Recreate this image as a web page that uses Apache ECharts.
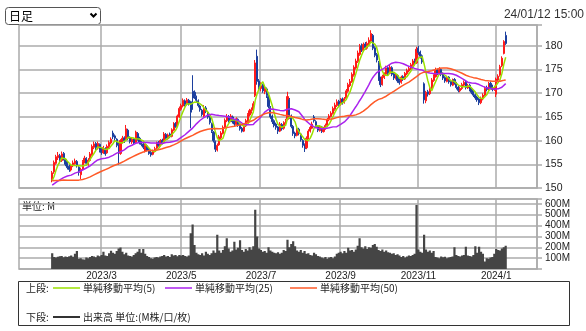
<!DOCTYPE html>
<html><head><meta charset="utf-8">
<script src="https://cdn.jsdelivr.net/npm/echarts@6/dist/echarts.min.js"></script>
<style>html,body{margin:0;padding:0;background:#fff}#c{width:586px;height:331px}</style>
</head><body><div id="c"></div><script>
// ---- data (daily, 2023-01-23 .. 2024-01-12) ----
const firstDataDate = '2023-01-23';
// closes before the window, used only to seed the moving averages
const priorCloses = [155,155.5,156,155,154.5,155,156,155.5,154,155,154.5,155,154,153.5,152,151,150,149.5,149,148.5,148,149,148.5,149,148.5,
  149,148.5,149.5,150,151,150.5,150,151,152,151.5,150.5,150,151,150.5,150,149.5,150,151,151.5,150.5,151,150,151.5,152];
const closes = [
 153.2,155.4,156.6,156.9,155.6,157.2,156.2,
 155.0,154.3,153.9,154.6,155.3,155.7,154.7,153.3,153.9,155.6,156.3,155.2,155.9,157.2,158.8,159.3,158.5,159.4,157.9,
 157.5,158.5,157.2,158.8,159.6,160.3,160.8,160.5,159.0,157.5,160.0,160.5,160.0,162.5,160.5,159.8,160.3,159.5,161.8,160.4,159.6,159.2,
 158.6,159.0,158.0,157.3,157.0,157.8,158.3,159.5,159.0,160.0,159.5,161.4,160.5,161.2,160.8,162.3,163.5,163.0,165.2,166.8,
 167.4,168.5,167.6,168.6,167.8,166.0,169.0,169.3,168.5,167.4,166.5,165.5,166.8,166.2,165.0,163.8,162.0,160.0,158.2,159.0,
 160.8,161.6,162.8,164.3,165.0,164.2,165.2,164.0,163.5,164.6,163.2,162.5,162.0,163.0,164.2,165.5,166.3,166.5,167.8,176.4,172.5,171.2,
 171.6,170.5,171.0,169.5,167.2,165.0,164.0,163.2,162.8,162.0,163.5,162.5,163.8,164.2,169.3,165.0,163.0,161.5,161.0,162.5,
 161.5,160.2,159.0,158.3,160.5,162.0,162.8,163.5,164.2,163.0,162.2,162.8,162.0,162.6,163.2,164.5,165.2,165.8,166.8,167.5,168.2,167.6,
 168.6,168.0,168.8,170.5,171.8,172.5,174.0,175.5,176.8,178.5,179.8,179.2,180.3,179.6,180.5,181.2,182.6,179.5,178.0,177.0,
 173.0,171.8,173.5,174.0,175.3,174.2,175.5,174.0,173.2,173.8,172.6,172.2,173.4,173.0,174.2,174.8,175.2,176.0,176.8,176.3,179.3,
 178.6,177.8,176.6,168.6,170.2,169.8,171.0,172.8,173.6,174.8,174.2,175.0,174.0,173.2,172.6,173.3,172.4,171.8,172.8,172.2,
 171.2,170.6,171.0,171.8,172.3,171.2,171.6,170.8,170.2,169.6,169.0,168.6,168.0,168.9,169.6,171.0,170.8,172.0,171.4,170.8,171.2,
 173.0,173.6,175.6,177.4,180.9,180.5];
const opens = [
 151.8,153.4,155.2,156.4,156.8,155.8,157.3,
 156.0,155.2,154.6,153.8,154.7,155.1,155.6,154.4,152.8,154.0,155.5,156.2,155.0,155.8,157.0,158.6,159.4,158.4,159.2,
 158.2,157.4,158.3,157.4,158.7,159.5,161.6,161.0,160.3,159.2,157.3,159.8,160.6,160.2,162.2,160.6,159.7,160.4,159.6,161.5,160.5,159.8,
 159.3,157.8,158.9,158.2,157.5,157.1,157.7,158.4,159.6,159.0,160.1,159.6,161.3,160.4,161.4,160.9,162.2,163.6,163.1,165.0,
 166.6,167.3,168.4,167.7,168.5,168.2,170.4,170.2,169.2,168.4,167.3,166.4,165.2,166.9,166.0,165.0,163.6,161.8,159.8,158.0,
 159.1,160.6,161.5,162.8,164.2,165.1,164.1,165.0,164.1,163.4,164.5,163.3,162.6,162.0,163.1,164.0,165.4,166.2,166.4,169.5,177.8,172.6,
 171.0,171.8,170.3,170.9,169.3,167.0,165.2,164.2,163.5,162.9,162.0,163.4,162.6,163.7,164.5,168.6,165.2,163.0,161.6,161.1,
 162.4,161.4,160.0,159.2,158.5,160.6,162.0,162.6,165.0,164.0,163.0,162.1,162.9,161.9,162.5,163.2,164.4,165.1,165.7,166.6,167.4,168.3,
 167.7,168.8,168.1,168.9,170.4,171.6,172.4,173.8,175.3,176.7,178.2,180.0,179.0,180.4,179.5,180.2,181.0,182.2,179.6,178.2,
 176.5,173.2,171.9,173.3,174.0,175.4,174.2,175.4,174.1,173.1,173.7,172.7,172.3,173.5,173.0,174.1,174.7,175.1,175.9,176.9,176.4,
 179.5,178.7,177.9,172.0,168.4,170.3,169.9,171.0,172.7,173.5,174.9,174.1,175.0,174.1,173.3,172.5,173.4,172.5,171.7,172.9,
 172.1,171.3,170.5,171.0,171.7,172.3,171.1,171.7,170.9,170.3,169.7,169.2,168.8,168.0,168.8,169.6,171.2,170.9,172.1,171.5,170.8,
 169.8,172.8,173.8,175.8,178.4,182.2];
const lows = [
 151.2,153.0,154.9,155.9,155.2,155.5,155.8,
 154.6,153.9,153.4,153.5,154.4,154.9,154.3,152.6,151.9,153.8,155.2,154.8,154.7,155.6,156.8,158.2,158.0,158.1,157.5,
 157.0,157.2,156.8,157.2,158.4,159.2,160.3,160.0,158.6,154.9,157.0,159.4,159.5,160.0,160.1,159.4,159.3,159.1,159.4,160.0,159.2,158.8,
 158.2,157.5,157.7,157.0,156.6,156.9,157.5,158.2,158.7,158.8,159.2,159.4,160.2,160.2,160.5,160.7,162.0,162.7,162.9,164.8,
 166.3,167.0,167.2,167.4,167.4,162.6,166.5,168.8,168.1,167.0,166.1,165.1,164.9,165.8,164.6,163.4,161.6,159.6,157.6,157.7,
 158.9,160.3,161.3,162.6,163.9,163.8,163.9,163.6,163.1,163.2,162.9,162.1,161.7,161.8,162.9,163.8,165.1,165.7,166.2,169.2,171.8,170.6,
 170.4,170.1,169.8,169.0,166.8,164.6,163.5,162.8,162.3,161.4,161.8,162.1,162.3,163.3,164.3,164.6,162.6,161.0,160.5,160.9,
 161.1,159.8,158.5,157.6,158.2,160.3,161.7,162.4,163.8,162.6,161.8,161.9,161.6,161.7,162.3,163.0,164.1,164.9,165.5,166.3,167.1,167.2,
 167.4,167.6,167.8,168.7,170.1,171.3,172.2,173.5,175.0,176.4,177.9,178.7,178.8,179.2,179.2,180.0,180.8,179.1,177.6,176.5,
 172.6,171.3,171.6,173.0,173.7,173.8,174.0,173.6,172.8,172.9,172.2,171.8,172.0,172.6,172.8,173.8,174.4,174.9,175.6,175.9,176.2,
 178.1,177.3,176.2,167.8,167.9,169.3,169.6,170.8,172.4,173.3,173.8,173.9,173.6,172.8,172.2,172.3,172.0,171.4,171.5,171.8,
 170.8,170.2,170.2,170.7,171.5,170.8,170.9,170.4,169.8,169.2,168.6,168.2,167.5,167.7,168.5,169.4,170.4,170.6,171.0,170.4,170.5,
 169.2,172.5,173.5,175.5,178.2,180.2];
const highs = [
 153.6,155.8,157.0,157.6,157.2,157.7,157.6,
 156.3,155.5,155.0,155.0,155.8,156.2,155.9,154.6,154.3,155.9,156.8,156.5,156.3,157.6,159.2,159.8,159.7,159.8,159.4,
 158.5,158.9,158.6,159.2,160.0,160.7,162.1,161.3,160.5,159.5,160.3,161.0,160.9,163.3,162.5,160.9,160.7,160.6,162.1,161.8,160.8,160.0,
 159.5,159.3,159.2,158.4,157.8,158.1,158.7,159.8,159.9,160.3,160.4,161.8,161.6,161.5,161.7,162.6,163.9,163.9,165.5,167.2,
 167.8,168.9,168.7,169.0,168.8,168.4,173.8,170.6,169.5,168.7,167.6,166.7,167.5,167.3,166.3,165.2,163.8,162.0,160.0,159.4,
 161.2,162.0,163.2,164.7,165.6,165.4,165.6,165.3,164.4,164.9,164.7,163.5,162.9,163.4,164.6,165.8,166.7,167.0,168.3,177.0,179.2,173.0,
 172.3,172.0,171.5,171.2,169.6,167.3,165.5,164.5,163.8,163.1,163.9,163.7,164.1,164.6,170.3,169.0,165.5,163.3,161.9,162.9,
 162.7,161.6,160.3,159.4,160.9,162.4,163.2,164.0,165.4,164.3,163.2,163.2,163.1,162.9,163.6,164.8,165.6,166.2,167.2,168.0,168.7,168.6,
 169.0,169.1,169.2,170.9,172.2,173.0,174.4,175.9,177.3,179.0,180.4,180.5,180.7,180.8,180.9,181.8,183.3,182.5,179.9,178.5,
 176.8,173.5,173.9,174.4,175.8,175.7,176.0,175.7,174.4,174.2,174.0,173.0,173.7,173.8,174.5,175.2,175.7,176.4,177.2,177.3,179.8,
 180.0,179.0,178.2,172.3,170.5,170.7,171.4,173.2,174.0,175.4,175.2,175.5,175.3,174.4,173.6,173.7,173.6,172.8,173.1,173.2,
 172.4,171.6,171.4,172.2,172.7,172.6,172.0,172.0,171.2,170.6,170.0,169.5,169.0,169.3,170.0,171.4,171.6,172.4,172.5,171.8,171.6,
 173.3,174.0,176.0,177.8,181.2,183.0];
const volumes = [ // millions
 145,110,105,112,118,120,108,
 115,110,118,125,112,140,165,95,100,90,88,105,98,110,120,115,108,125,118,
 130,158,125,120,145,168,150,140,165,190,197,160,135,150,125,120,115,130,145,160,185,150,
 185,140,120,110,100,95,105,110,105,115,120,130,115,120,110,135,125,130,118,128,
 125,130,120,115,125,330,410,220,150,135,130,145,125,160,140,130,145,170,150,315,
 170,150,175,210,284,190,160,170,250,180,195,265,175,160,185,170,200,180,210,546,300,190,
 175,160,165,150,200,170,160,150,145,155,140,150,175,165,270,200,230,255,210,170,
 160,175,150,165,140,145,130,125,150,135,120,115,105,100,110,95,105,110,100,115,140,150,
 160,145,165,150,195,170,175,160,180,215,284,200,190,210,185,200,195,220,230,205,
 175,165,180,160,170,155,150,140,145,130,135,125,110,120,105,115,125,120,130,140,590,
 180,160,150,315,180,160,170,150,165,110,105,100,115,108,112,100,105,110,115,200,
 130,120,115,125,130,205,125,120,115,130,210,150,205,160,140,70,100,95,105,110,140,
 185,175,170,190,200,215];
const maPeriods = [5, 25, 50];
const maNames = ['単純移動平均(5)', '単純移動平均(25)', '単純移動平均(50)'];
const priceTicks = [150, 155, 160, 165, 170, 175, 180];
const volumeTicks = [100, 200, 300, 400, 500, 600];
const monthTickDates = ['2023-03-01','2023-05-01','2023-07-03','2023-09-01','2023-11-01','2024-01-04'];
const monthTickLabels = ['2023/3','2023/5','2023/7','2023/9','2023/11','2024/1'];
const holidays = ['2023-01-02','2023-01-03','2023-01-09','2023-02-23','2023-03-21','2023-05-03','2023-05-04','2023-05-05',
  '2023-07-17','2023-08-11','2023-09-18','2023-10-09','2023-11-03','2023-11-23','2024-01-01','2024-01-02','2024-01-03','2024-01-08'];
const axisStartDate = '2022-12-26';
const axisSlots = 273;

// ---- build categories (trading days) ----
function tradingDays(startStr, count) {
  const p = startStr.split('-').map(Number);
  const d = new Date(Date.UTC(p[0], p[1]-1, p[2]));
  const out = [];
  while (out.length < count) {
    const dow = d.getUTCDay();
    const s = d.toISOString().slice(0, 10);
    if (dow !== 0 && dow !== 6 && holidays.indexOf(s) < 0) out.push(s);
    d.setUTCDate(d.getUTCDate() + 1);
  }
  return out;
}
const categories = tradingDays(axisStartDate, axisSlots);
const start = categories.indexOf(firstDataDate);

const candleData = categories.map((_, i) => {
  const k = i - start;
  if (k < 0 || k >= closes.length) return '-';
  return [opens[k], closes[k], lows[k], highs[k]];
});
const volData = categories.map((_, i) => {
  const k = i - start;
  return (k < 0 || k >= volumes.length) ? 0 : volumes[k];
});
function movingAverage(n) {
  const all = priorCloses.concat(closes);
  return categories.map((_, i) => {
    const k = i - start;
    if (k < 0 || k >= closes.length) return '-';
    const g = priorCloses.length + k;
    let s = 0;
    for (let j = g - n + 1; j <= g; j++) s += all[j];
    return +(s / n).toFixed(2);
  });
}

const isTick = (idx, val) => monthTickDates.indexOf(val) >= 0;
const GRID = '#ababab';
const LAT = '"Liberation Sans", Arial, sans-serif';
const CJK = '"Noto Sans CJK JP", sans-serif';
const maColors = ['#9ae000', '#aa22ee', '#ff5a28'];

const chart = echarts.init(document.getElementById('c'), null, {renderer: 'canvas'});
const xBase = (gi) => ({
  type: 'category', gridIndex: gi, data: categories, boundaryGap: true,
  axisLine: {show: false}, axisTick: {show: false},
  splitLine: {show: true, interval: isTick, lineStyle: {color: GRID, width: 1.5}}
});
const legendY1 = 288, legendY2 = 317;
const legendLines = [[53, 80], [165, 192], [290, 317]];
const legendTextX = [83, 195, 320];

chart.setOption({
  animation: false,
  grid: [
    {left: 19, top: 25, width: 518, height: 163, show: true, borderColor: GRID, borderWidth: 1.5},
    {left: 19, top: 199, width: 518, height: 70, show: true, borderColor: GRID, borderWidth: 1.5}
  ],
  xAxis: [
    Object.assign(xBase(0), {axisLabel: {show: false}}),
    Object.assign(xBase(1), {axisLabel: {show: true, interval: isTick, margin: 2,
      formatter: v => { const i = monthTickDates.indexOf(v); return i >= 0 ? monthTickLabels[i] : ''; },
      fontSize: 10, fontFamily: LAT, color: '#222'}})
  ],
  yAxis: [
    {type: 'value', gridIndex: 0, position: 'right', min: 150, max: 184.4, interval: 5,
     axisLine: {show: false}, axisTick: {show: true, length: 5, lineStyle: {color: GRID, width: 1.5}},
     axisLabel: {margin: 8, fontSize: 10.5, fontFamily: LAT, color: '#222',
       formatter: v => priceTicks.indexOf(Math.round(v*10)/10) >= 0 ? String(v) : ''},
     splitLine: {lineStyle: {color: GRID, width: 1.5}}},
    {type: 'value', gridIndex: 1, position: 'right', min: 0, max: 645, interval: 100,
     axisLine: {show: false}, axisTick: {show: true, length: 5, lineStyle: {color: GRID, width: 1.5}},
     axisLabel: {margin: 8, fontSize: 10, fontFamily: LAT, color: '#222',
       formatter: v => volumeTicks.indexOf(v) >= 0 ? v + 'M' : ''},
     splitLine: {lineStyle: {color: GRID, width: 1.5}}}
  ],
  series: [
    {type: 'candlestick', name: '株価', xAxisIndex: 0, yAxisIndex: 0, data: candleData, barWidth: 1.6,
     itemStyle: {color: '#ff1a1a', color0: '#1c3f9e', borderColor: '#ff1a1a', borderColor0: '#1c3f9e', borderWidth: 1}},
    ...maPeriods.map((n, i) => ({
      type: 'line', name: maNames[i], xAxisIndex: 0, yAxisIndex: 0, data: movingAverage(n),
      showSymbol: false, z: 5, lineStyle: {color: maColors[i], width: 1.5}, itemStyle: {color: maColors[i]}
    })),
    {type: 'bar', name: '出来高', xAxisIndex: 1, yAxisIndex: 1, data: volData, barWidth: 2.2,
     large: true, largeThreshold: 10, itemStyle: {color: '#454545'}}
  ],
  graphic: [
    {type: 'rect', shape: {x: 5.5, y: 7.5, width: 95, height: 17, r: 3}, style: {fill: '#fff', stroke: '#555', lineWidth: 1}},
    {type: 'text', x: 9, y: 16, style: {text: '日足', fontSize: 12, fontFamily: CJK, fill: '#000', verticalAlign: 'middle'}},
    {type: 'polyline', shape: {points: [[90.5, 13.5], [93.5, 16.5], [96.5, 13.5]]}, style: {stroke: '#000', lineWidth: 2, fill: null}},
    {type: 'text', x: 584, y: 15, style: {text: '24/01/12 15:00', fontSize: 12, fontFamily: LAT, fill: '#333', align: 'right', verticalAlign: 'middle'}},
    {type: 'text', x: 22, y: 206.5, style: {text: '単位: M', fontSize: 10, fontFamily: CJK, fill: '#222', verticalAlign: 'middle'}},
    {type: 'rect', shape: {x: 18.5, y: 281.5, width: 551, height: 44}, style: {fill: null, stroke: '#333', lineWidth: 1}},
    {type: 'text', x: 26, y: legendY1, style: {text: '上段:', fontSize: 10, fontFamily: CJK, fill: '#222', verticalAlign: 'middle'}},
    ...legendLines.map((p, i) => ({type: 'line', shape: {x1: p[0], y1: legendY1, x2: p[1], y2: legendY1}, style: {stroke: maColors[i], lineWidth: 1.5}})),
    ...legendTextX.map((x, i) => ({type: 'text', x: x, y: legendY1, style: {text: maNames[i], fontSize: 10, fontFamily: CJK, fill: '#222', verticalAlign: 'middle'}})),
    {type: 'text', x: 26, y: legendY2, style: {text: '下段:', fontSize: 10, fontFamily: CJK, fill: '#222', verticalAlign: 'middle'}},
    {type: 'line', shape: {x1: 53, y1: legendY2, x2: 80, y2: legendY2}, style: {stroke: '#333', lineWidth: 2}},
    {type: 'text', x: 83, y: legendY2, style: {text: '出来高 単位:(M株/口/枚)', fontSize: 10, fontFamily: CJK, fill: '#222', verticalAlign: 'middle'}}
  ]
});
</script></body></html>
